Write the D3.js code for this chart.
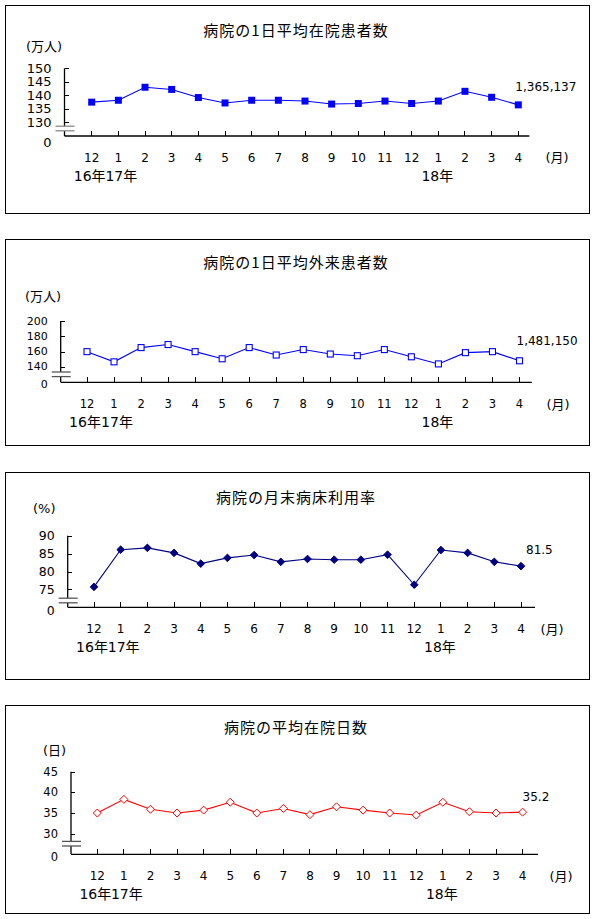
<!DOCTYPE html>
<html><head><meta charset="utf-8">
<script src="https://cdn.jsdelivr.net/npm/d3@7"></script>
<style>
html,body{margin:0;padding:0;background:#fff;}
svg{display:block;}
text{font-family:"DejaVu Sans","Noto Sans CJK JP",sans-serif;fill:#000;}
.jp{font-family:"Noto Sans CJK JP","DejaVu Sans",sans-serif;}
</style></head>
<body>
<svg id="c" width="596" height="919"></svg>
<script>
// ---- data ----
const months = ["12","1","2","3","4","5","6","7","8","9","10","11","12","1","2","3","4"];
const yearLabels = [{i:0,t:"16年"},{i:1,t:"17年"},{i:13,t:"18年"}];
const inpatients = [137.5,138.2,143.0,142.2,139.2,137.2,138.2,138.2,137.9,136.8,137.0,137.9,137.0,137.9,141.5,139.3,136.5];
const outpatients = [160.0,146.7,165.3,169.3,160.0,150.7,165.3,155.6,162.7,156.9,154.7,162.7,153.3,144.0,158.7,160.0,148.1];
const bedRate = [75.7,86.1,86.6,85.2,82.2,83.8,84.6,82.7,83.5,83.3,83.3,84.7,76.3,86.0,85.2,82.7,81.5];
const stayDays = [35.0,38.3,35.9,35.0,35.7,37.6,35.0,36.1,34.6,36.5,35.7,35.0,34.5,37.6,35.3,35.0,35.2];
const ticks1 = [130,135,140,145,150];
const ticks2 = [140,160,180,200];
const ticks3 = [75,80,85,90];
const ticks4 = [30,35,40,45];
const titles = ["病院の1日平均在院患者数","病院の1日平均外来患者数","病院の月末病床利用率","病院の平均在院日数"];
const units = ["(万人)","(万人)","(%)","(日)"];
const lastLabels = ["1,365,137","1,481,150","81.5","35.2"];

// ---- layout ----
const panels = [
  {values:inpatients, ticks:ticks1, dom:[125,150], box:[5,5,589,213], axisX:64.5, yTop:68.3, yBase:136,
   x0:91.7, x1:518.3, xEnd:529.3, color:"#0000ff", marker:"sqFill", titleY:29, unitX:26, unitY:46,
   yFs:13, xFs:12, zeroDy:6.5, brk:128.5, lab:[-3,-18], monthX:557},
  {values:outpatients, ticks:ticks2, dom:[120,200], box:[5,239,589,445], axisX:60.7, yTop:321, yBase:382.3,
   x0:87, x1:519.5, xEnd:531.8, color:"#0000ff", marker:"sqOpen", titleY:261, unitX:25, unitY:296,
   yFs:11, xFs:11.5, zeroDy:2, brk:374.3, lab:[-3,-19.5], monthX:558},
  {values:bedRate, ticks:ticks3, dom:[70,90], box:[5,472,589,679], axisX:67.7, yTop:535.7, yBase:607.3,
   x0:94, x1:521, xEnd:535, color:"#000080", marker:"diaFill", titleY:496, unitX:33, unitY:508.5,
   yFs:12.5, xFs:12, zeroDy:3.5, brk:600.5, lab:[5,-16], monthX:552},
  {values:stayDays, ticks:ticks4, dom:[25,45], box:[5,705,589,913], axisX:71, yTop:771.7, yBase:854.3,
   x0:97.3, x1:522.6, xEnd:538, color:"#ff0000", marker:"diaOpen", titleY:726, unitX:43, unitY:750,
   yFs:11.5, xFs:12, zeroDy:2.5, brk:843.7, lab:[0,-15.5], monthX:561}
];

const svg = d3.select("#c");

panels.forEach((p, k) => {
  const g = svg.append("g");
  const [bx0, by0, bx1, by1] = p.box;
  g.append("rect").attr("x", bx0 + 0.5).attr("y", by0 + 0.5)
    .attr("width", bx1 - bx0).attr("height", by1 - by0)
    .attr("fill", "#fff").attr("stroke", "#000").attr("stroke-width", 1);

  const x = d3.scalePoint().domain(d3.range(months.length)).range([p.x0, p.x1]);
  const y = d3.scaleLinear().domain(p.dom).range([p.yBase, p.yTop]);

  // title
  g.append("text").attr("class", "jp").attr("x", 296).attr("y", p.titleY)
    .attr("text-anchor", "middle").attr("dominant-baseline", "central")
    .attr("font-size", 15).attr("letter-spacing", 1).text(titles[k]);
  // unit
  g.append("text").attr("x", p.unitX).attr("y", p.unitY).attr("dominant-baseline", "central")
    .attr("font-size", 13).text(units[k]);

  // y axis
  const yAxis = d3.axisRight(y).tickValues(p.ticks).tickSize(4).tickFormat("");
  const ya = g.append("g").attr("transform", `translate(${p.axisX},0)`).call(yAxis);
  ya.select(".domain").remove();
  ya.selectAll("line").attr("stroke", "#000").attr("shape-rendering", "crispEdges");
  g.append("line").attr("x1", p.axisX).attr("x2", p.axisX).attr("y1", p.yTop).attr("y2", p.yBase)
    .attr("stroke", "#000").attr("stroke-width", 1.3);
  // y tick labels
  g.selectAll(".yl").data(p.ticks).enter().append("text")
    .attr("x", p.axisX - 13).attr("y", d => y(d)).attr("text-anchor", "end")
    .attr("dominant-baseline", "central").attr("font-size", p.yFs).text(d => d);
  g.append("text").attr("x", p.axisX - 13).attr("y", p.yBase + p.zeroDy).attr("text-anchor", "end")
    .attr("dominant-baseline", "central").attr("font-size", p.yFs).text("0");

  // break marks
  g.append("rect").attr("x", p.axisX - 9).attr("y", p.brk - 2.3).attr("width", 19).attr("height", 4.6).attr("fill", "#fff");
  [p.brk - 2.3, p.brk + 2.3].forEach(yy => {
    g.append("line").attr("x1", p.axisX - 9).attr("x2", p.axisX + 10).attr("y1", yy).attr("y2", yy)
      .attr("stroke", k === 0 ? "#888" : "#555").attr("stroke-width", 1.3);
  });

  // x axis
  g.append("line").attr("x1", p.axisX).attr("x2", p.xEnd).attr("y1", p.yBase).attr("y2", p.yBase)
    .attr("stroke", "#000").attr("stroke-width", 1.3);
  g.selectAll(".xt").data(d3.range(months.length)).enter().append("line")
    .attr("x1", i => x(i)).attr("x2", i => x(i)).attr("y1", p.yBase).attr("y2", p.yBase - 5)
    .attr("stroke", "#000").attr("shape-rendering", "crispEdges");
  g.selectAll(".xl").data(months).enter().append("text")
    .attr("x", (d, i) => x(i)).attr("y", p.yBase + 21.7).attr("text-anchor", "middle")
    .attr("dominant-baseline", "central").attr("font-size", p.xFs).text(d => d);
  g.append("text").attr("x", p.monthX).attr("y", p.yBase + 21.7).attr("text-anchor", "middle")
    .attr("dominant-baseline", "central").attr("font-size", 13).text("(月)");
  yearLabels.forEach(yl => {
    const dx = yl.i === 0 ? -2 : (yl.i === 1 ? 3 : -1);
    g.append("text").attr("x", x(yl.i) + dx).attr("y", p.yBase + 40).attr("text-anchor", "middle")
      .attr("dominant-baseline", "central").attr("font-size", 14).text(yl.t);
  });

  // line
  const line = d3.line().x((d, i) => x(i)).y(d => y(d));
  g.append("path").datum(p.values).attr("d", line).attr("fill", "none")
    .attr("stroke", p.color).attr("stroke-width", 1.1);

  // markers
  const mk = g.selectAll(".mk").data(p.values).enter();
  if (p.marker === "sqFill") {
    mk.append("rect").attr("x", (d, i) => x(i) - 3.5).attr("y", d => y(d) - 3.5)
      .attr("width", 7).attr("height", 7).attr("fill", p.color);
  } else if (p.marker === "sqOpen") {
    mk.append("rect").attr("x", (d, i) => x(i) - 3).attr("y", d => y(d) - 3)
      .attr("width", 6).attr("height", 6).attr("fill", "#fff").attr("stroke", p.color).attr("stroke-width", 1.1);
  } else {
    const r = p.marker === "diaFill" ? 3.8 : 4;
    mk.append("path").attr("d", (d, i) => {
      const cx = x(i), cy = y(d);
      return `M${cx},${cy - r}L${cx + r},${cy}L${cx},${cy + r}L${cx - r},${cy}Z`;
    }).attr("fill", p.marker === "diaFill" ? p.color : "#fff")
      .attr("stroke", p.color).attr("stroke-width", 1);
  }

  // last value label
  const li = p.values.length - 1;
  g.append("text").attr("x", x(li) + p.lab[0]).attr("y", y(p.values[li]) + p.lab[1])
    .attr("dominant-baseline", "central").attr("font-size", 12).text(lastLabels[k]);
});
</script>
</body></html>
